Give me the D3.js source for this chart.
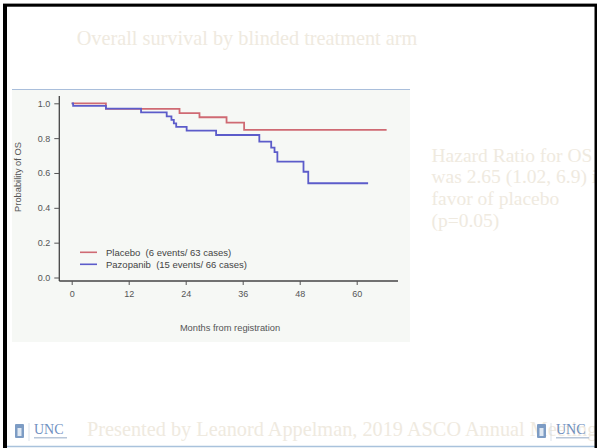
<!DOCTYPE html>
<html>
<head>
<meta charset="utf-8">
<script src="https://cdn.jsdelivr.net/npm/d3@7"></script>
<style>
  body { margin: 0; background: #fff; }
  svg { display: block; }
  .tick text { font-family: "Liberation Sans", Arial, sans-serif; font-size: 9px; fill: #555; }
  .tick line { stroke: #555; }
</style>
</head>
<body>
<div id="slide"></div>
<script>
// Kaplan-Meier steps (months, survival probability)
var placeboTime = [0, 7.2, 22.7, 26.9, 32.6, 36.3, 66.3];
var placeboSurv = [1.0, 0.968, 0.944, 0.92, 0.889, 0.847, 0.847];
var pazoTime = [0, 0.3, 7.2, 14.6, 20.0, 21.0, 21.5, 22.0, 24.2, 30.4, 39.5, 42.0, 42.7, 43.3, 48.8, 49.8, 62.4];
var pazoSurv = [1.0, 0.985, 0.97, 0.948, 0.925, 0.905, 0.885, 0.865, 0.843, 0.818, 0.78, 0.745, 0.72, 0.665, 0.607, 0.541, 0.541];

var xTicks = [0, 12, 24, 36, 48, 60];
var yTicks = [0, 0.2, 0.4, 0.6, 0.8, 1.0];
var legendLabels = ["Placebo  (6 events/ 63 cases)", "Pazopanib  (15 events/ 66 cases)"];
var hrLines = ["Hazard Ratio for OS", "was 2.65 (1.02, 6.9) in", "favor of placebo", "(p=0.05)"];

var W = 597, H = 448;
var fadedText = "#efeae0";
var red = "#cf6a73", blue = "#5c5cca";
var serif = "'Liberation Serif', 'Times New Roman', serif";
var sans = "'Liberation Sans', Arial, sans-serif";

var svg = d3.select("#slide").append("svg")
    .attr("width", W)
    .attr("height", H);

svg.append("rect").attr("width", W).attr("height", H).attr("fill", "#fff");

// title
svg.append("text")
    .attr("x", 247).attr("y", 45)
    .attr("text-anchor", "middle")
    .style("font-family", serif)
    .style("font-size", "20.3px")
    .attr("fill", fadedText)
    .text("Overall survival by blinded treatment arm");

// pasted chart image area
svg.append("rect")
    .attr("x", 12).attr("y", 89.5)
    .attr("width", 398).attr("height", 252.5)
    .attr("fill", "#f6f8f5");
svg.append("line")
    .attr("x1", 12).attr("x2", 410).attr("y1", 89.5).attr("y2", 89.5)
    .attr("stroke", "#a9bedb").attr("stroke-width", 1);

var x = d3.scaleLinear().domain([0, 60]).range([71.7, 356.7]);
var y = d3.scaleLinear().domain([0, 1]).range([277.5, 103.3]);

var axisX = 59.3, axisY = 281;

// L-shaped frame
svg.append("line")
    .attr("x1", axisX).attr("x2", axisX)
    .attr("y1", y(1.042)).attr("y2", axisY)
    .attr("stroke", "#444").attr("stroke-width", 1.3);
svg.append("line")
    .attr("x1", axisX).attr("x2", x(68.7))
    .attr("y1", axisY).attr("y2", axisY)
    .attr("stroke", "#444").attr("stroke-width", 1.3);

var gy = svg.append("g")
    .attr("transform", "translate(" + axisX + ",0)")
    .call(d3.axisLeft(y).tickValues(yTicks).tickFormat(d3.format(".1f")).tickSize(5).tickPadding(4));
gy.select(".domain").remove();

var gx = svg.append("g")
    .attr("transform", "translate(0," + axisY + ")")
    .call(d3.axisBottom(x).tickValues(xTicks).tickSize(4).tickPadding(6));
gx.select(".domain").remove();

svg.append("text")
    .attr("x", 230).attr("y", 331)
    .attr("text-anchor", "middle")
    .style("font-family", sans)
    .style("font-size", "9.3px")
    .attr("fill", "#555")
    .text("Months from registration");

svg.append("text")
    .attr("transform", "translate(21,177) rotate(-90)")
    .attr("text-anchor", "middle")
    .style("font-family", sans)
    .style("font-size", "9.3px")
    .attr("fill", "#555")
    .text("Probability of OS");

// survival curves
var step = d3.line()
    .x(function(d) { return x(d[0]); })
    .y(function(d) { return y(d[1]); })
    .curve(d3.curveStepAfter);

svg.append("path")
    .datum(d3.zip(placeboTime, placeboSurv))
    .attr("d", step)
    .attr("fill", "none")
    .attr("stroke", red)
    .attr("stroke-width", 1.8);

svg.append("path")
    .datum(d3.zip(pazoTime, pazoSurv))
    .attr("d", step)
    .attr("fill", "none")
    .attr("stroke", blue)
    .attr("stroke-width", 1.8);

// legend
var legend = svg.selectAll(".legend")
    .data(legendLabels)
  .enter().append("g")
    .attr("class", "legend")
    .attr("transform", function(d, i) { return "translate(80," + (252.3 + i * 12) + ")"; });

legend.append("line")
    .attr("x1", 0).attr("x2", 17)
    .attr("stroke", function(d, i) { return i == 0 ? red : blue; })
    .attr("stroke-width", 1.6);

legend.append("text")
    .attr("x", 26).attr("y", 3.3)
    .style("font-family", sans)
    .style("font-size", "9.5px")
    .style("white-space", "pre")
    .attr("fill", "#444")
    .text(function(d) { return d; });

// hazard ratio note
svg.append("text")
    .style("font-family", serif)
    .style("font-size", "19.5px")
    .attr("fill", fadedText)
  .selectAll("tspan")
    .data(hrLines)
  .enter().append("tspan")
    .attr("x", 431.5)
    .attr("y", function(d, i) { return 161.7 + i * 21.7; })
    .text(function(d) { return d; });

// footer
svg.append("text")
    .attr("x", 87).attr("y", 436)
    .style("font-family", serif)
    .style("font-size", "20.3px")
    .attr("fill", fadedText)
    .text("Presented by Leanord Appelman, 2019 ASCO Annual Meeting");

// UNC logos
function uncLogo(x0) {
    var g = svg.append("g").attr("transform", "translate(" + x0 + ",0)");
    g.append("rect").attr("x", 0).attr("y", 424).attr("width", 9).attr("height", 14)
        .attr("fill", "#7d9cc4").attr("rx", 1);
    g.append("rect").attr("x", 2.5).attr("y", 428).attr("width", 4).attr("height", 8)
        .attr("fill", "#dfe8f2");
    g.append("line").attr("x1", 14).attr("x2", 14).attr("y1", 423).attr("y2", 441)
        .attr("stroke", "#d2dbe6").attr("stroke-width", 0.8);
    g.append("text").attr("x", 19).attr("y", 434)
        .style("font-family", serif)
        .style("font-size", "14px")
        .attr("fill", "#6f8fbf")
        .text("UNC");
    g.append("rect").attr("x", 19).attr("y", 437).attr("width", 33).attr("height", 1.5)
        .attr("fill", "#b8c6d8");
}
uncLogo(15);
uncLogo(537);

// slide frame
svg.append("line").attr("x1", 5).attr("x2", 597).attr("y1", 446.5).attr("y2", 446.5)
    .attr("stroke", "#a9c2dc").attr("stroke-width", 1.5);
svg.append("line").attr("x1", 3).attr("x2", 597).attr("y1", 3.5).attr("y2", 3.5)
    .attr("stroke", "#9a9a9a").attr("stroke-width", 1);
svg.append("rect").attr("x", 3).attr("y", 4).attr("width", 594).attr("height", 2.7).attr("fill", "#000");
svg.append("rect").attr("x", 3).attr("y", 4).attr("width", 4).attr("height", H - 4).attr("fill", "#000");
svg.append("rect").attr("x", 594.5).attr("y", 4).attr("width", 2.5).attr("height", H - 4).attr("fill", "#000");
</script>
</body>
</html>
